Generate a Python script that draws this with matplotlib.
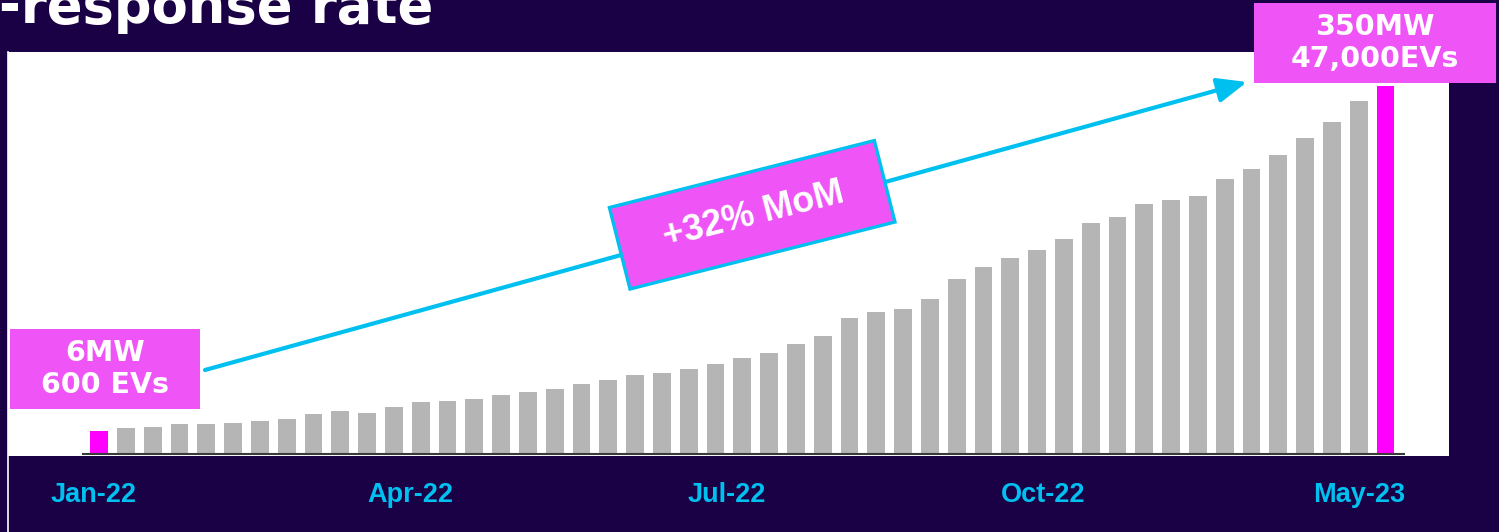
import numpy as np
import matplotlib
matplotlib.use("Agg")
import matplotlib.pyplot as plt
from matplotlib.patches import Rectangle
import matplotlib.transforms as mtransforms

# bar heights (relative units, baseline = 0)
values = [23, 26, 27, 29.7, 29.7, 31, 33.3, 34.7, 39.7, 43.3, 40.7, 47, 51.7,
          53, 55.3, 59, 61.7, 65.3, 70.3, 74, 78.7, 81.3, 85, 90, 96, 101,
          109.7, 118, 136, 142.3, 145.3, 155, 174.7, 187, 195.7, 204, 215.3,
          231.3, 237.3, 250, 253.7, 258.3, 274.7, 285.3, 299, 316, 332, 353, 368]
tick_labels = ["Jan-22", "Apr-22", "Jul-22", "Oct-22", "May-23"]
start_label = "6MW\n600 EVs"
end_label = "350MW\n47,000EVs"
growth_label = "+32% MoM"
title = "-response rate"

BG = "#1a0045"
MAGENTA = "#ff00ff"
PINK = "#ef55f6"
GRAY = "#b5b5b5"
CYAN = "#00c0f0"

W, H = 1499, 532
fig = plt.figure(figsize=(W / 100, H / 100), dpi=100)
fig.patch.set_facecolor(BG)

# main bar axes, white panel
ax = fig.add_axes([8 / W, (H - 456) / H, 1441 / W, 404 / H])
ax.set_facecolor("white")
n = len(values)
x = np.arange(n)
colors = [GRAY] * n
colors[0] = MAGENTA
colors[-1] = MAGENTA
ax.bar(x, values, width=0.67, color=colors, zorder=2)
ax.hlines(0, -0.63, n - 1 + 0.73, color="#3a3a3a", lw=1.5, zorder=3)
ax.set_xlim(-3.40, 50.37)
ax.set_ylim(-2, 402)
ax.set_xticks([])
ax.set_yticks([])
for s in ax.spines.values():
    s.set_visible(False)

# month labels under the panel
tick_pos = np.linspace(-0.2, n - 1 - 0.97, len(tick_labels))
trans = mtransforms.blended_transform_factory(ax.transData, ax.transAxes)
for p, lab in zip(tick_pos, tick_labels):
    ax.text(p, -0.097, lab, transform=trans, ha="center", va="center",
            color=CYAN, fontsize=19.5, fontweight="bold",
            family=["Liberation Sans", "DejaVu Sans"], clip_on=False)

# overlay in pixel coords for the annotations
ov = fig.add_axes([0, 0, 1, 1], zorder=10)
ov.set_xlim(0, W)
ov.set_ylim(0, H)
ov.axis("off")
ov.patch.set_alpha(0)

# thin white edge on the left
ov.plot([8.5, 8.5], [0, H - 52], color="white", lw=1.2)

# title, cut off at top like the source slide
fig.text(-1 / W, (H - 23) / H, title, color="white", fontsize=38,
         fontweight="heavy", ha="left", va="baseline")

# growth arrow
ov.annotate("", xy=(1247, H - 82), xytext=(205, H - 370),
            arrowprops=dict(arrowstyle="-|>,head_length=0.6,head_width=0.25",
                            color=CYAN, lw=3, mutation_scale=30,
                            shrinkA=0, shrinkB=0), zorder=2)

# rotated growth box
ang = np.degrees(np.arctan2(67, 265))
ov.add_patch(Rectangle((630, H - 289), 273.3, 84, angle=ang, facecolor=PINK,
                       edgecolor=CYAN, lw=2.4, zorder=3))
ov.text(754, H - 215, growth_label, rotation=ang, rotation_mode="anchor",
        ha="center", va="center", color="white", fontsize=26,
        fontweight="bold", family=["Liberation Sans", "DejaVu Sans"], zorder=4)

# start / end value boxes
ov.add_patch(Rectangle((10, H - 409), 190, 80, facecolor=PINK, zorder=3))
ov.text(105, H - 369, start_label, ha="center", va="center", color="white",
        fontsize=20.5, fontweight="bold", linespacing=1.2, zorder=4)
ov.add_patch(Rectangle((1254, H - 83), 242, 80, facecolor=PINK, zorder=3))
ov.text(1375, H - 43, end_label, ha="center", va="center", color="white",
        fontsize=20.5, fontweight="bold", linespacing=1.2, zorder=4)

fig.savefig("out.png", dpi=100, facecolor=BG)
